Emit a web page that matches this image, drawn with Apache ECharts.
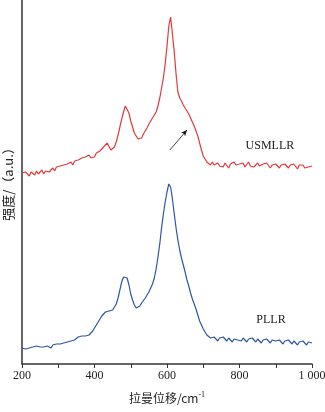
<!DOCTYPE html>
<html>
<head>
<meta charset="utf-8">
<script src="https://cdn.jsdelivr.net/npm/echarts@6/dist/echarts.min.js"></script>
<style>html,body{margin:0;padding:0;background:#fff}#c{width:325px;height:412px}</style>
</head>
<body>
<div id="c"></div>
<script>
const seriesNames = ['USMLLR', 'PLLR'];
const xTicks = [200, 400, 600, 800, 1000];
const xTickLabels = ['200', '400', '600', '800', '1 000'];
const xTitle = '拉曼位移/cm';
const yTitle = '强度/（a.u.）';

const usmllr = [
[200,191],[205,189],[210,192],[215,190],[220,188],[225,192],[230,191],[235,189],[240,193],[245,190],
[250,192],[255,194],[260,190],[265,193],[270,195],[275,192],[280,194],[285,196],[290,193],[295,197],
[300,195],[305,198],[310,196],[315,199],[320,197],[325,200],[330,198],[335,202],[340,199],[345,203],
[350,201],[355,204],[360,202],[365,206],[370,204],[375,207],[380,205],[385,209],[390,206],[395,208],
[400,207],[405,211],[410,210],[415,213],[420,214],[425,217],[430,218],[435,221],[440,219],[445,214],
[450,215],[455,217],[460,222],[465,229],[470,237],[475,245],[480,252],[485,258],[490,259],[495,251],
[500,243],[505,237],[510,231],[515,228],[520,225],[525,227],[530,226],[535,230],[540,233],[545,236],
[550,240],[555,243],[560,246],[565,249],[570,252],[575,258],[580,266],[585,276],[590,286],[595,300],
[600,318],[605,338],[610,347],[615,330],[620,312],[625,290],[630,272],[635,266],[640,263],[645,259],
[650,256],[655,253],[660,250],[665,246],[670,242],[675,238],[680,233],[685,228],[690,221],[695,214],
[700,208],[705,205],[710,202],[715,201],[720,199],[725,202],[730,199],[735,197],[740,201],[745,198],
[750,200],[755,197],[760,201],[765,199],[770,196],[775,200],[780,198],[785,202],[790,199],[795,197],
[800,200],[805,198],[810,201],[815,197],[820,199],[825,202],[830,198],[835,200],[840,197],[845,199],
[850,201],[855,198],[860,196],[865,200],[870,198],[875,201],[880,199],[885,196],[890,199],[895,197],
[900,200],[905,198],[910,196],[915,199],[920,197],[925,200],[930,198],[935,196],[940,199],[945,197],
[950,200],[955,198],[960,195],[965,199],[970,197],[975,199],[980,196],[985,198],[990,197],[995,195],
[1000,198]
];

const pllr = [
[200,16],[205,18],[210,15],[215,17],[220,16],[225,18],[230,17],[235,15],[240,18],[245,16],
[250,17],[255,15],[260,17],[265,16],[270,18],[275,17],[280,16],[285,19],[290,18],[295,20],
[300,21],[305,20],[310,22],[315,21],[320,23],[325,22],[330,24],[335,23],[340,25],[345,24],
[350,26],[355,27],[360,26],[365,28],[370,29],[375,28],[380,30],[385,29],[390,31],[395,33],
[400,36],[405,39],[410,42],[415,45],[420,48],[425,50],[430,52],[435,51],[440,53],[445,52],
[450,54],[455,55],[460,60],[465,66],[470,74],[475,82],[480,87],[485,89],[490,86],[495,79],
[500,70],[505,64],[510,59],[515,56],[520,57],[525,58],[530,61],[535,63],[540,66],[545,68],
[550,72],[555,76],[560,80],[565,86],[570,95],[575,107],[580,120],[585,136],[590,150],[595,162],
[600,172],[605,180],[610,177],[615,165],[620,150],[625,136],[630,124],[635,114],[640,106],[645,99],
[650,92],[655,84],[660,78],[665,71],[670,65],[675,60],[680,55],[685,49],[690,43],[695,39],
[700,35],[705,32],[710,29],[715,27],[720,26],[725,24],[730,27],[735,25],[740,23],[745,26],
[750,24],[755,27],[760,25],[765,23],[770,26],[775,24],[780,22],[785,25],[790,27],[795,24],
[800,25],[805,23],[810,26],[815,24],[820,22],[825,25],[830,23],[835,26],[840,24],[845,22],
[850,25],[855,23],[860,21],[865,24],[870,22],[875,25],[880,23],[885,21],[890,24],[895,22],
[900,23],[905,21],[910,24],[915,22],[920,20],[925,23],[930,21],[935,24],[940,22],[945,20],
[950,23],[955,21],[960,19],[965,22],[970,20],[975,23],[980,21],[985,19],[990,22],[995,20],
[1000,21]
];

// annotation positions (data units)
const arrowFrom = [608, 214];
const arrowTo = [655, 234];
const labelPos = [[884, 218], [887, 44]];

const chart = echarts.init(document.getElementById('c'), null, {renderer: 'canvas'});
const serif = '"Liberation Serif", "Times New Roman", serif';
const cjk = '"Noto Sans CJK SC", "Liberation Serif", serif';

chart.setOption({
  animation: false,
  backgroundColor: '#fff',
  grid: {left: 22, right: 13, top: 0, bottom: 48, containLabel: false, outerBoundsMode: 'none'},
  xAxis: {
    type: 'value', min: 200, max: 1000, interval: 100,
    axisLine: {lineStyle: {color: '#333', width: 1.5}},
    axisTick: {show: true, inside: false, length: 4, lineStyle: {color: '#333', width: 1}},
    splitLine: {show: false},
    axisLabel: {
      margin: 6, color: '#222', fontFamily: serif, fontSize: 12, hideOverlap: false,
      formatter: v => { const i = xTicks.indexOf(v); return i >= 0 ? xTickLabels[i] : ''; }
    },
    name: '{a|' + xTitle + '}{s|-1}',
    nameLocation: 'middle', nameGap: 27,
    nameTextStyle: {
      rich: {
        a: {fontFamily: cjk, fontSize: 12, color: '#222', lineHeight: 14},
        s: {fontFamily: serif, fontSize: 8, color: '#222', verticalAlign: 'top', lineHeight: 14, padding: [0,0,6,0]}
      }
    }
  },
  yAxis: {
    type: 'value', min: 0, max: 364,
    axisLine: {show: true, lineStyle: {color: '#333', width: 1.5}},
    axisTick: {show: false}, axisLabel: {show: false}, splitLine: {show: false}
  },
  series: [
    {
      name: seriesNames[0], type: 'line', data: usmllr, showSymbol: false, symbol: 'none',
      lineStyle: {color: '#e5383b', width: 1.2}, z: 3,
      markLine: {
        silent: true, symbol: ['none', 'arrow'], symbolSize: [4, 6],
        lineStyle: {color: '#111', width: 0.8, type: 'solid'},
        label: {show: false},
        data: [[{coord: arrowFrom}, {coord: arrowTo}]]
      }
    },
    {
      name: seriesNames[1], type: 'line', data: pllr, showSymbol: false, symbol: 'none',
      lineStyle: {color: '#2e55a5', width: 1.2}, z: 3
    }
  ]
});

const g = [];
labelPos.forEach((p, i) => {
  const px = chart.convertToPixel({gridIndex: 0}, p);
  g.push({type: 'text', x: px[0], y: px[1], style: {text: seriesNames[i], fill: '#222', font: '12px ' + serif, align: 'center', verticalAlign: 'middle'}});
});
g.push({type: 'text', x: 8, y: 181, rotation: Math.PI / 2,
  style: {text: yTitle, fill: '#222', font: '13px ' + cjk, align: 'center', verticalAlign: 'middle'}});
chart.setOption({graphic: g});
</script>
</body>
</html>
